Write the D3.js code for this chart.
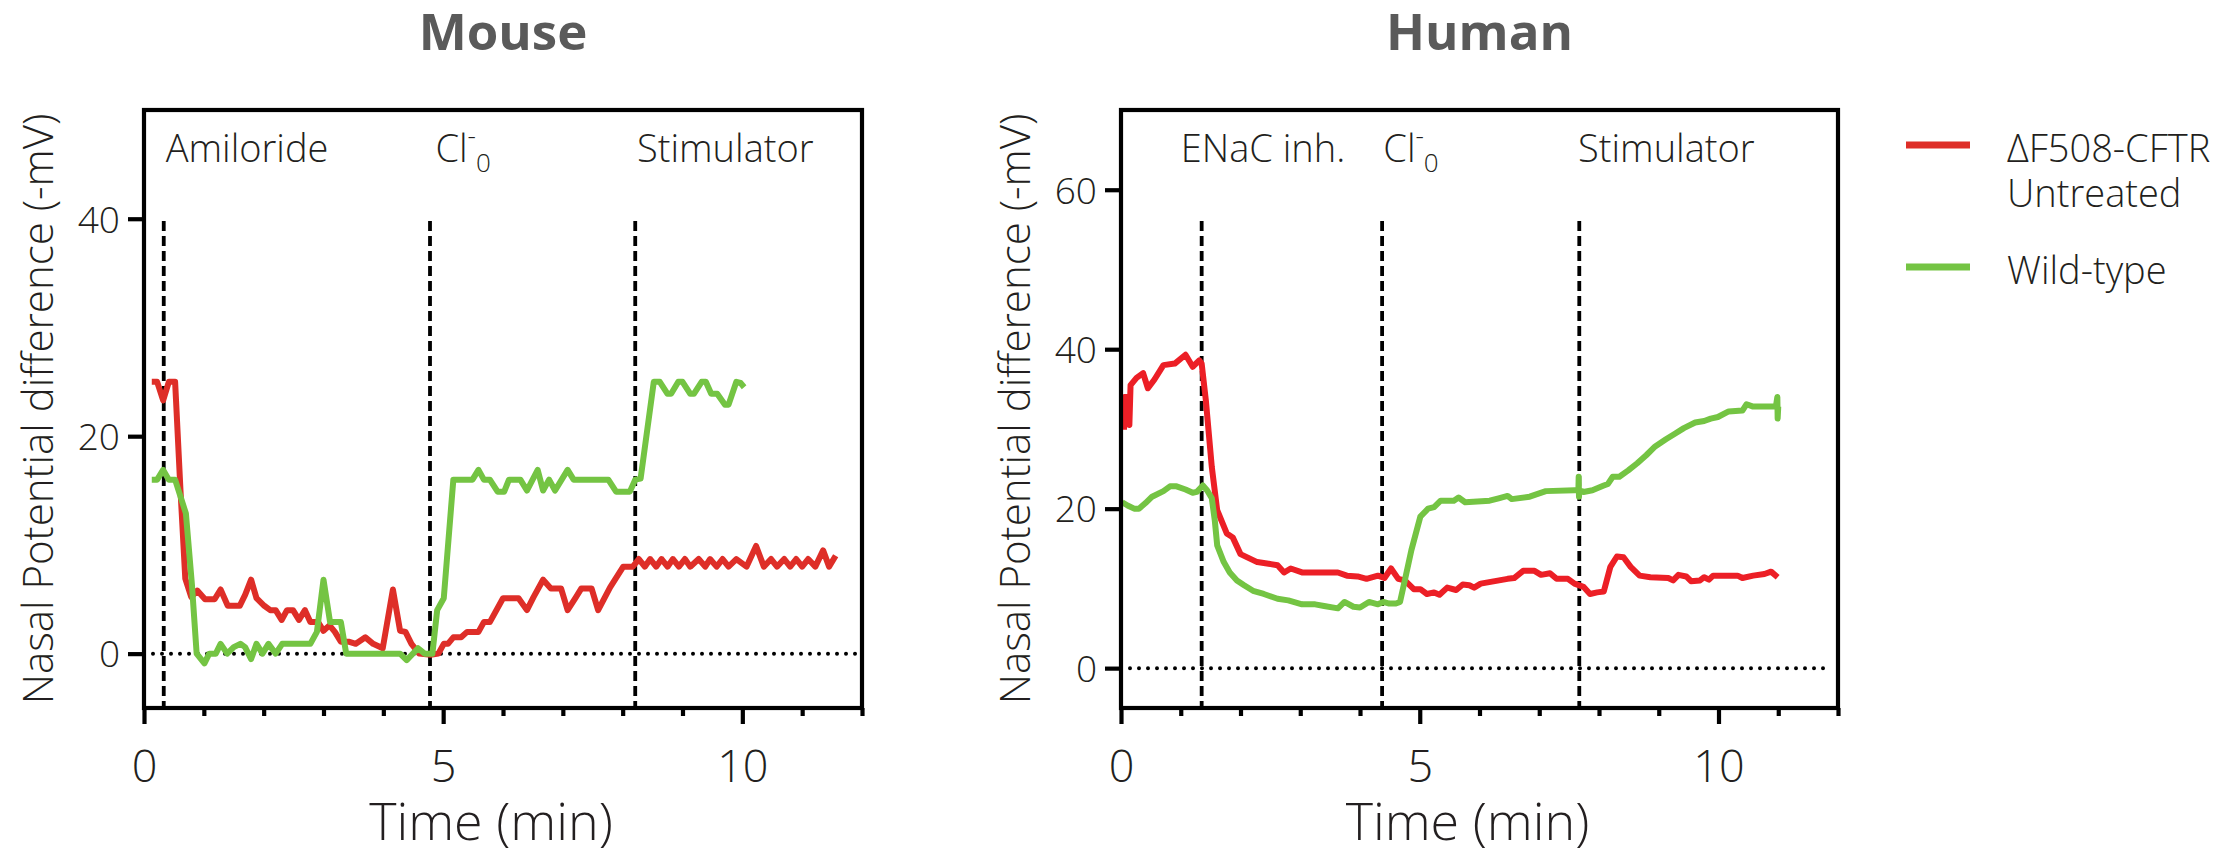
<!DOCTYPE html>
<html>
<head>
<meta charset="utf-8">
<script src="https://cdn.jsdelivr.net/npm/d3@7"></script>
<style>
  body { margin: 0; background: #fff; }
  svg { display: block; }
  text { font-family: "Open Sans", "Noto Sans", sans-serif; }
</style>
</head>
<body>
<svg id="chart" width="2232" height="855"></svg>
<script>
// ---------------- DATA ----------------
const panelTitles = ["Mouse", "Human"];
const xTickValues = [0,1,2,3,4,5,6,7,8,9,10,11,12];
const xTickLabels = [0,5,10];
const mouseYTicks = [0,20,40];
const humanYTicks = [0,20,40,60];
const seriesNames = ["\u0394F508-CFTR|Untreated", "Wild-type"];

// marker lines (minutes) and labels
const mouseMarkerTimes = [0.33, 4.78, 8.21];
const mouseMarkerLabels = ["Amiloride", "Cl", "Stimulator"];
const mouseLabelTimes = [0.363, 4.87, 8.24];
const humanMarkerTimes = [1.35, 4.37, 7.67];
const humanMarkerLabels = ["ENaC inh.", "Cl", "Stimulator"];
const humanLabelTimes = [1.0, 4.39, 7.65];

// Mouse: [time (min), PD (-mV)]
const mouseCF = [[0.13,25],[0.22,25],[0.32,23.3],[0.415,25],[0.52,25],[0.61,15],[0.69,6.9],[0.79,5.2],[0.89,5.8],[1.02,5],[1.18,5],[1.28,5.9],[1.40,4.4],[1.60,4.4],[1.69,5.4],[1.79,6.8],[1.88,5.1],[2.01,4.4],[2.11,4.0],[2.20,4.0],[2.30,3.1],[2.39,4.0],[2.49,4.0],[2.59,3.1],[2.69,4.0],[2.78,2.9],[2.91,2.9],[3.00,2.1],[3.10,2.6],[3.19,2.0],[3.29,1.1],[3.42,1.1],[3.54,0.9],[3.70,1.5],[3.83,0.9],[3.99,0.5],[4.16,5.9],[4.28,2.1],[4.37,2.0],[4.47,0.9],[4.60,0],[4.79,-0.1],[4.92,0],[5.01,0.9],[5.08,0.9],[5.17,1.5],[5.30,1.5],[5.40,2.0],[5.59,2.0],[5.68,2.9],[5.78,2.9],[6.00,5.1],[6.26,5.1],[6.40,4.0],[6.51,5.2],[6.67,6.8],[6.80,6.0],[6.97,6.0],[7.08,4.0],[7.22,5.2],[7.31,6.0],[7.48,6.0],[7.59,4.0],[7.79,6.1],[8.01,8.0],[8.17,8.0],[8.27,8.7],[8.37,8.0],[8.46,8.7],[8.56,8.0],[8.65,8.7],[8.75,8.0],[8.84,8.7],[8.94,8.0],[9.04,8.7],[9.13,8.0],[9.27,8.7],[9.38,8.0],[9.46,8.7],[9.57,8.0],[9.67,8.7],[9.77,8.0],[9.90,8.7],[10.07,8.0],[10.23,9.9],[10.36,8.0],[10.48,8.7],[10.58,8.0],[10.70,8.7],[10.80,8.0],[10.90,8.7],[11.00,8.0],[11.10,8.7],[11.22,8.0],[11.35,9.5],[11.45,8.0],[11.56,9.0]];
const mouseWT = [[0.13,16],[0.22,16],[0.32,16.9],[0.415,16],[0.52,16],[0.70,12.9],[0.80,6.4],[0.88,0],[1.01,-0.9],[1.09,0],[1.20,0],[1.28,0.9],[1.39,0],[1.50,0.6],[1.61,0.9],[1.69,0.6],[1.79,-0.5],[1.88,0.9],[1.98,0],[2.08,0.9],[2.20,0],[2.31,0.9],[2.78,0.9],[2.89,2.0],[3.00,6.8],[3.11,2.9],[3.29,2.9],[3.38,0],[4.28,0],[4.39,-0.6],[4.58,0.5],[4.69,0],[4.82,0],[4.90,4.0],[5.01,5.1],[5.17,16],[5.49,16],[5.59,16.9],[5.68,16],[5.78,16],[5.91,14.9],[6.02,14.9],[6.10,16],[6.29,16],[6.40,15.0],[6.58,16.9],[6.67,15.0],[6.77,16],[6.87,15.0],[7.08,16.9],[7.18,16],[7.76,16],[7.89,14.9],[8.12,14.9],[8.21,16],[8.30,16.1],[8.52,25],[8.62,25],[8.75,23.9],[8.81,23.9],[8.93,25],[9.00,25],[9.13,23.9],[9.19,23.9],[9.32,25],[9.39,25],[9.48,23.9],[9.58,23.9],[9.71,22.9],[9.77,22.9],[9.90,25],[9.97,24.9],[10.03,24.5]];

// Human
const humanCF = [[0.05,29.9],[0.06,34.0],[0.12,34],[0.14,30.5],[0.16,35.5],[0.26,36.4],[0.37,37.0],[0.45,35.1],[0.56,36.2],[0.71,38.0],[0.90,38.2],[1.08,39.3],[1.20,37.8],[1.31,38.6],[1.35,38.2],[1.42,33.6],[1.52,25.2],[1.61,19.8],[1.77,16.9],[1.87,16.4],[2.00,14.3],[2.28,13.3],[2.47,13.1],[2.62,12.9],[2.73,12.0],[2.84,12.5],[3.03,12.0],[3.63,12.0],[3.78,11.6],[3.96,11.5],[4.11,11.2],[4.30,11.6],[4.41,11.3],[4.52,12.5],[4.64,11.2],[4.75,11.0],[4.90,9.9],[5.01,9.9],[5.12,9.3],[5.24,9.5],[5.33,9.2],[5.46,10.1],[5.61,9.8],[5.72,10.5],[5.83,10.4],[5.91,10.1],[6.02,10.6],[6.47,11.2],[6.58,11.3],[6.73,12.2],[6.92,12.2],[7.03,11.7],[7.18,11.9],[7.29,11.2],[7.48,11.2],[7.59,10.6],[7.74,10.2],[7.85,9.3],[7.97,9.5],[8.08,9.6],[8.19,12.7],[8.30,14.0],[8.41,13.9],[8.53,12.7],[8.68,11.6],[8.86,11.4],[9.16,11.3],[9.24,11.0],[9.33,11.7],[9.46,11.5],[9.54,10.9],[9.69,11.0],[9.76,11.4],[9.84,11.1],[9.91,11.6],[10.32,11.6],[10.40,11.3],[10.58,11.6],[10.77,11.8],[10.88,12.1],[10.99,11.4]];
const humanWT = [[0.02,20.8],[0.11,20.4],[0.22,20.0],[0.30,20.0],[0.41,20.7],[0.52,21.5],[0.71,22.2],[0.82,22.8],[0.93,22.8],[1.08,22.4],[1.20,22.0],[1.27,22.1],[1.37,22.9],[1.44,22.3],[1.52,21.3],[1.57,18.5],[1.61,15.4],[1.72,13.3],[1.82,12.0],[1.94,11.0],[2.06,10.4],[2.21,9.7],[2.39,9.3],[2.62,8.7],[2.80,8.5],[3.03,8.0],[3.25,8.0],[3.40,7.8],[3.63,7.5],[3.74,8.3],[3.89,7.7],[4.00,7.6],[4.15,8.3],[4.30,8.0],[4.39,8.3],[4.49,8.1],[4.60,8.1],[4.67,8.3],[4.75,11.0],[4.86,14.8],[5.01,19.0],[5.14,20.0],[5.24,20.2],[5.35,21.0],[5.57,21.0],[5.65,21.4],[5.76,20.8],[6.17,21.0],[6.32,21.3],[6.47,21.6],[6.54,21.2],[6.84,21.5],[7.11,22.2],[7.59,22.3],[7.655,22.3],[7.66,24.0],[7.665,21.5],[7.67,22.3],[7.74,22.1],[7.89,22.3],[8.08,22.9],[8.15,23.1],[8.23,24.0],[8.34,24.0],[8.49,24.8],[8.64,25.7],[8.79,26.7],[8.94,27.8],[9.12,28.7],[9.27,29.4],[9.42,30.1],[9.61,30.8],[9.76,31.0],[9.87,31.3],[9.99,31.5],[10.17,32.2],[10.40,32.3],[10.47,33.1],[10.58,32.8],[10.96,32.8],[10.985,34.0],[10.99,31.3],[11.0,32.8]];

// ---------------- STYLE ----------------
const red = "#DE2E28", redHuman = "#EC1F26", green = "#74C443";
const inkColor = "#231F20";

const svg = d3.select("#chart");
svg.append("rect").attr("width", 2232).attr("height", 855).attr("fill", "#fff");

function drawPanel(p) {
  const g = svg.append("g");
  const x = d3.scaleLinear().domain([0, 12]).range([p.left, p.right]);
  const y = d3.scaleLinear().domain(p.yDomain).range([p.bottom, p.top]);

  // title
  g.append("text").attr("x", (p.left + p.right) / 2).attr("y", 50)
    .attr("text-anchor", "middle").attr("font-size", 51).attr("font-weight", 700)
    .attr("fill", "#5A5A5A").text(p.title);

  // zero dotted line
  g.append("line").attr("x1", x(0) + 9).attr("x2", x(12) - 6)
    .attr("y1", y(0)).attr("y2", y(0))
    .attr("stroke", "#000").attr("stroke-width", 4)
    .attr("stroke-linecap", "round").attr("stroke-dasharray", "0 9");

  // marker lines
  p.markers.forEach(t => {
    g.append("line").attr("x1", x(t)).attr("x2", x(t))
      .attr("y1", p.markerTopPx).attr("y2", p.bottom)
      .attr("stroke", "#000").attr("stroke-width", 3.8)
      .attr("stroke-dasharray", "10 5");
  });

  // series
  const line = d3.line().x(d => x(d[0])).y(d => y(d[1]));
  p.series.forEach(s => {
    g.append("path").datum(s.data).attr("d", line)
      .attr("fill", "none").attr("stroke", s.color).attr("stroke-width", 6)
      .attr("stroke-linejoin", "round").attr("stroke-linecap", "butt");
  });

  // frame
  g.append("rect").attr("x", p.left).attr("y", p.top)
    .attr("width", p.right - p.left).attr("height", p.bottom - p.top)
    .attr("fill", "none").attr("stroke", "#000").attr("stroke-width", 4.2);

  // x axis ticks
  const xAxis = d3.axisBottom(x).tickValues(xTickValues)
    .tickSize(8).tickFormat("");
  const xa = g.append("g").attr("transform", `translate(0,${p.bottom})`).call(xAxis);
  xa.select(".domain").remove();
  xa.selectAll(".tick line").attr("stroke", "#000").attr("stroke-width", 4.2)
    .attr("y2", d => xTickLabels.includes(d) ? 16 : 8);
  xa.selectAll(".tick").filter(d => xTickLabels.includes(d)).append("text")
    .attr("y", 74).attr("fill", inkColor).attr("font-size", 45)
    .attr("font-weight", 300).attr("text-anchor", "middle").text(d => d);

  // y axis ticks
  const yAxis = d3.axisLeft(y).tickValues(p.yTicks).tickSize(16).tickFormat("");
  const ya = g.append("g").attr("transform", `translate(${p.left},0)`).call(yAxis);
  ya.select(".domain").remove();
  ya.selectAll(".tick line").attr("stroke", "#000").attr("stroke-width", 4.2);
  ya.selectAll(".tick").append("text")
    .attr("x", -24).attr("dy", "0.36em").attr("fill", inkColor)
    .attr("font-size", 37).attr("font-weight", 300).attr("text-anchor", "end")
    .text(d => d);

  // axis titles
  g.append("text")
    .attr("transform", `translate(${p.left - 91},${(p.top + p.bottom) / 2}) rotate(-90)`)
    .attr("text-anchor", "middle").attr("font-size", 42).attr("font-weight", 300)
    .attr("fill", inkColor).text("Nasal Potential difference (-mV)");
  g.append("text").attr("x", (p.left + p.right) / 2 - 12).attr("y", 840)
    .attr("text-anchor", "middle").attr("font-size", 52).attr("font-weight", 300)
    .attr("fill", inkColor).text("Time (min)");

  // annotation labels
  p.labels.forEach((lab, i) => {
    const t = g.append("text")
      .attr("x", x(p.labelTimes[i])).attr("y", 162)
      .attr("font-size", 38).attr("font-weight", 300).attr("fill", inkColor);
    if (lab === "Cl") {
      t.append("tspan").text("Cl");
      t.append("tspan").attr("font-size", 26).attr("dy", -17).text("-");
      t.append("tspan").attr("font-size", 26).attr("dy", 27).text("0");
    } else {
      t.text(lab);
    }
  });
}

drawPanel({
  title: panelTitles[0], left: 144, right: 862, top: 110, bottom: 708,
  yDomain: [-5, 50], yTicks: mouseYTicks, markerTopPx: 221,
  markers: mouseMarkerTimes, labels: mouseMarkerLabels, labelTimes: mouseLabelTimes,
  series: [{data: mouseCF, color: red}, {data: mouseWT, color: green}]
});
drawPanel({
  title: panelTitles[1], left: 1121, right: 1838, top: 110, bottom: 708,
  yDomain: [-5, 70], yTicks: humanYTicks, markerTopPx: 221,
  markers: humanMarkerTimes, labels: humanMarkerLabels, labelTimes: humanLabelTimes,
  series: [{data: humanCF, color: redHuman}, {data: humanWT, color: green}]
});

// legend
const legend = svg.append("g");
const legendItems = [
  {name: seriesNames[0], color: red, lineY: 145, textY: 162},
  {name: seriesNames[1], color: green, lineY: 267, textY: 284}
];
legendItems.forEach(it => {
  legend.append("line").attr("x1", 1906).attr("x2", 1970)
    .attr("y1", it.lineY).attr("y2", it.lineY)
    .attr("stroke", it.color).attr("stroke-width", 7);
  const t = legend.append("text").attr("x", 2007).attr("y", it.textY)
    .attr("font-size", 38).attr("font-weight", 300).attr("fill", inkColor);
  it.name.split("|").forEach((part, i) => {
    t.append("tspan").attr("x", 2007).attr("dy", i === 0 ? 0 : 45).text(part);
  });
});
</script>
</body>
</html>
